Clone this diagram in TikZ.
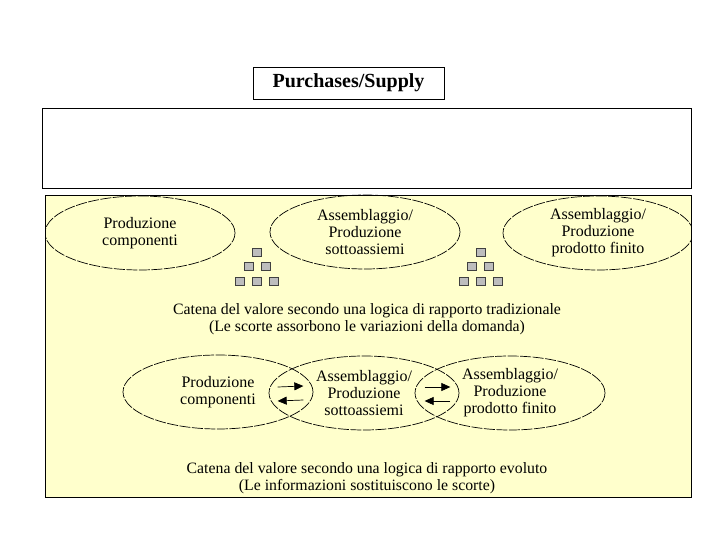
\documentclass[tikz,border=0pt]{standalone}
\usepackage{fontspec}
\setmainfont{Liberation Serif}
\usetikzlibrary{shapes.geometric,arrows.meta}
\definecolor{fondogiallo}{HTML}{FFFFCC}
\definecolor{grigioscorta}{HTML}{BDBDBD}

\begin{document}
\begin{tikzpicture}[x=1pt,y=-1pt,
    fase/.style={ellipse, draw, line width=0.7pt, dash pattern=on 11pt off 1.5pt,
      minimum width=190pt, minimum height=74pt, inner sep=0pt,
      align=center, font=\fontsize{16}{17}\selectfont},
    scorta/.style={draw=black!75, fill=grigioscorta, minimum width=9pt,
      minimum height=8pt, inner sep=0pt},
    flusso/.style={-{Triangle[length=9pt,width=8pt]}, line width=0.7pt},
    didascalia/.style={align=center, font=\fontsize{15.8}{16.5}\selectfont}]
    \useasboundingbox (0,0) rectangle (720,540);
    % Titolo e riquadri
    \node[draw, minimum width=191pt, minimum height=32pt,
      font=\bfseries\fontsize{20}{22}\selectfont] (titolo) at (348.5,83) {Purchases/Supply};
    \draw (42,108) rectangle (691,188);
    \draw[fill=fondogiallo] (45,195) rectangle (691,497);
    % Logica tradizionale: fasi separate da scorte
    \begin{scope}
        \clip (45,195) rectangle (691,497);
        \node[fase] (tradA) at (140,233) {Produzione\\componenti};
        \node[fase] (tradB) at (365,232) {Assemblaggio/\\Produzione\\sottoassiemi};
        \node[fase] (tradC) at (598,233) {Assemblaggio/\\Produzione\\prodotto finito};
    \end{scope}
    \foreach \px/\pir in {257/a,480.5/b}
        \foreach \r in {0,1,2}
            \foreach \k in {0,...,\r}
                \node[scorta] (scorta-\pir-\r\k) at ({\px+(\k-\r/2)*17},{252+\r*14.5}) {};
    \node[didascalia] (tradizionale) at (367,319) {Catena del valore secondo una logica di rapporto tradizionale\\(Le scorte assorbono le variazioni della domanda)};
    % Logica evoluta: fasi sovrapposte con flussi di informazione
    \node[fase] (evolA) at (218,392) {Produzione\\componenti};
    \node[fase] (evolB) at (364,393) {Assemblaggio/\\Produzione\\sottoassiemi};
    \node[fase] (evolC) at (510,393) {Assemblaggio/\\Produzione\\prodotto finito};
    \draw[flusso] ([xshift=9pt,yshift=6pt]evolB.west) -- ([xshift=-10pt,yshift=6pt]evolA.east);
    \draw[flusso] ([xshift=-10pt,yshift=-8pt]evolA.east) -- ([xshift=9pt,yshift=-8pt]evolB.west);
    \draw[flusso] ([xshift=10pt,yshift=6pt]evolC.west) -- ([xshift=-9pt,yshift=6pt]evolB.east);
    \draw[flusso] ([xshift=-9pt,yshift=-8pt]evolB.east) -- ([xshift=10pt,yshift=-8pt]evolC.west);
    \node[didascalia] (evoluto) at (367,478) {Catena del valore secondo una logica di rapporto evoluto\\(Le informazioni sostituiscono le scorte)};
\end{tikzpicture}
\end{document}
